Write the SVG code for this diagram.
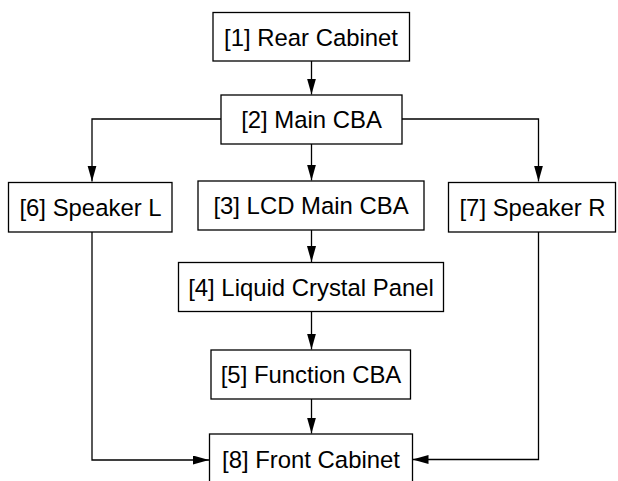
<svg xmlns="http://www.w3.org/2000/svg" width="618" height="481" viewBox="0 0 618 481">
<style>
.box{fill:#fff;stroke:#000;stroke-width:1.3}
.lbl{font-family:"Liberation Sans",Arial,sans-serif;font-size:23.9px;fill:#000;text-anchor:middle}
.c{fill:none;stroke:#000;stroke-width:1.3}
</style>
<defs>
<marker id="ah" markerUnits="userSpaceOnUse" markerWidth="17" markerHeight="10" refX="16" refY="4.5" orient="auto">
<path d="M0,0 L16,4.5 L0,9 z" fill="#000"/>
</marker>
</defs>
<rect width="618" height="481" fill="#fff"/>
<g id="connectors">
<path class="c" d="M311.5,61 V94.5" marker-end="url(#ah)"/>
<path class="c" d="M221,119 H92 V181.5" marker-end="url(#ah)"/>
<path class="c" d="M402,119 H538.5 V181.5" marker-end="url(#ah)"/>
<path class="c" d="M311.5,144 V180.5" marker-end="url(#ah)"/>
<path class="c" d="M311.5,230 V262" marker-end="url(#ah)"/>
<path class="c" d="M311.5,311.5 V349.5" marker-end="url(#ah)"/>
<path class="c" d="M311.5,399 V433.5" marker-end="url(#ah)"/>
<path class="c" d="M92,232 V460 H209" marker-end="url(#ah)"/>
<path class="c" d="M538.5,232 V459.5 H412.5" marker-end="url(#ah)"/>
</g>
<g id="n1"><rect class="box" x="213" y="12.5" width="196.5" height="48.5"/><text class="lbl" x="311" y="45.5">[1] Rear Cabinet</text></g>
<g id="n2"><rect class="box" x="221" y="95" width="181" height="49"/><text class="lbl" x="311.5" y="128.2">[2] Main CBA</text></g>
<g id="n6"><rect class="box" x="8.5" y="182.5" width="163.5" height="49.5"/><text class="lbl" x="90.5" y="215.7">[6] Speaker L</text></g>
<g id="n3"><rect class="box" x="198" y="181" width="226" height="49"/><text class="lbl" x="311" y="214.2">[3] LCD Main CBA</text></g>
<g id="n7"><rect class="box" x="448.5" y="182.5" width="167" height="49.5"/><text class="lbl" x="532.5" y="215.7">[7] Speaker R</text></g>
<g id="n4"><rect class="box" x="178.5" y="262.5" width="265" height="49"/><text class="lbl" x="311" y="295.7">[4] Liquid Crystal Panel</text></g>
<g id="n5"><rect class="box" x="211" y="350" width="199.5" height="49"/><text class="lbl" x="311" y="383.2">[5] Function CBA</text></g>
<g id="n8"><rect class="box" x="209.5" y="434" width="203" height="50"/><text class="lbl" x="311" y="468.2">[8] Front Cabinet</text></g>
</svg>
